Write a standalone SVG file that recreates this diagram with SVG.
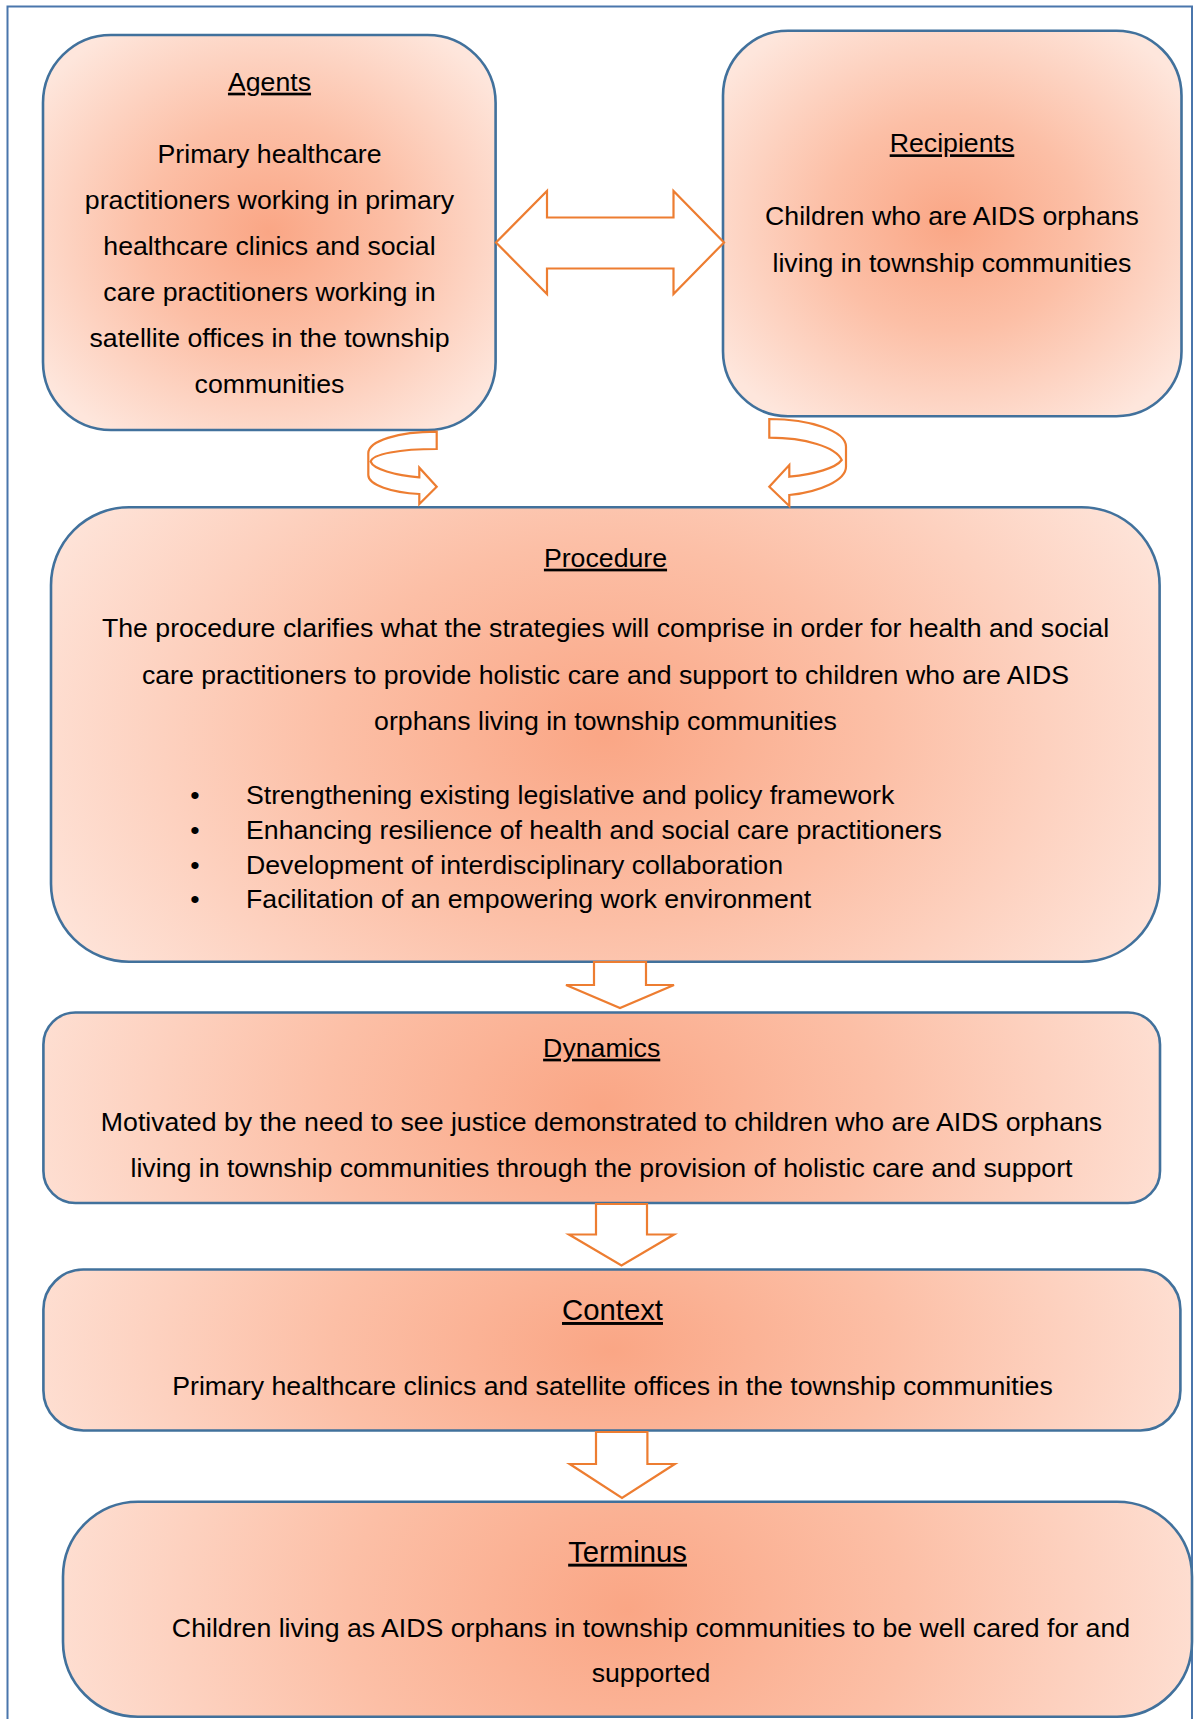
<svg xmlns="http://www.w3.org/2000/svg" width="1194" height="1719" viewBox="0 0 1194 1719">
<style>
.box{stroke:#41719C;stroke-width:2.6}
.arr{fill:#FFFFFF;stroke:#ED7D31;stroke-width:2.2;stroke-linejoin:miter}
text{font-family:"Liberation Sans",Arial,sans-serif;font-size:26.7px;fill:#000;text-anchor:middle}
.t{text-decoration:underline}
.big{font-size:29.3px}
.l{text-anchor:start}
</style>
<defs>
<radialGradient id="gBox" cx="0.5" cy="0.5" r="0.62">
<stop offset="0" stop-color="#FAA685"/>
<stop offset="0.45" stop-color="#FCBFA6"/>
<stop offset="1" stop-color="#FEE6DC"/>
</radialGradient>
<radialGradient id="gProc" cx="0.5" cy="0.5" r="0.55" gradientTransform="translate(0.5 0.5) scale(1 1.7) translate(-0.5 -0.5)">
<stop offset="0" stop-color="#FAA685"/>
<stop offset="0.45" stop-color="#FCBFA6"/>
<stop offset="1" stop-color="#FEE3D8"/>
</radialGradient>
<radialGradient id="gWide" cx="0.5" cy="0.5" r="0.55" gradientTransform="translate(0.5 0.5) scale(1 4) translate(-0.5 -0.5)">
<stop offset="0" stop-color="#FAA685"/>
<stop offset="0.45" stop-color="#FCBFA6"/>
<stop offset="1" stop-color="#FEE3D8"/>
</radialGradient>
</defs>
<rect width="1194" height="1719" fill="#FFFFFF"/>
<rect id="frame" x="7.5" y="6.5" width="1184.5" height="1740" fill="none" stroke="#4A76AC" stroke-width="2"/>

<g id="agents">
<rect class="box" x="43" y="35" width="452.6" height="395" rx="68" fill="url(#gBox)"/>
<text class="t" x="269.5" y="90.7">Agents</text>
<text x="269.5" y="162.7">Primary healthcare</text>
<text x="269.5" y="208.8">practitioners working in primary</text>
<text x="269.5" y="254.9">healthcare clinics and social</text>
<text x="269.5" y="301">care practitioners working in</text>
<text x="269.5" y="347.1">satellite offices in the township</text>
<text x="269.5" y="393.2">communities</text>
</g>

<g id="recipients">
<rect class="box" x="723" y="30.7" width="458.5" height="385.5" rx="65" fill="url(#gBox)"/>
<text class="t" x="952" y="152.3">Recipients</text>
<text x="952" y="225">Children who are AIDS orphans</text>
<text x="952" y="271.5">living in township communities</text>
</g>

<g id="procedure">
<rect class="box" x="51" y="507.3" width="1108.6" height="454.4" rx="78" fill="url(#gProc)"/>
<text class="t" x="605.5" y="566.7">Procedure</text>
<text x="605.5" y="637.3">The procedure clarifies what the strategies will comprise in order for health and social</text>
<text x="605.5" y="683.5">care practitioners to provide holistic care and support to children who are AIDS</text>
<text x="605.5" y="729.7">orphans living in township communities</text>
<text x="195" y="804">•</text>
<text class="l" x="246" y="804">Strengthening existing legislative and policy framework</text>
<text x="195" y="838.8">•</text>
<text class="l" x="246" y="838.8">Enhancing resilience of health and social care practitioners</text>
<text x="195" y="873.5">•</text>
<text class="l" x="246" y="873.5">Development of interdisciplinary collaboration</text>
<text x="195" y="908.3">•</text>
<text class="l" x="246" y="908.3">Facilitation of an empowering work environment</text>
</g>

<g id="dynamics">
<rect class="box" x="43.4" y="1012.5" width="1116.6" height="190.5" rx="32" fill="url(#gWide)"/>
<text class="t" x="601.7" y="1056.7">Dynamics</text>
<text x="601.5" y="1130.7">Motivated by the need to see justice demonstrated to children who are AIDS orphans</text>
<text x="601.5" y="1176.7">living in township communities through the provision of holistic care and support</text>
</g>

<g id="context">
<rect class="box" x="43.4" y="1269.5" width="1137" height="161" rx="40" fill="url(#gWide)"/>
<text class="t big" x="612.5" y="1320">Context</text>
<text x="612.5" y="1395">Primary healthcare clinics and satellite offices in the township communities</text>
</g>

<g id="terminus">
<rect class="box" x="63" y="1501.7" width="1129" height="215" rx="75" fill="url(#gWide)"/>
<text class="t big" x="627.6" y="1561.7">Terminus</text>
<text x="651" y="1636.5">Children living as AIDS orphans in township communities to be well cared for and</text>
<text x="651" y="1681.5">supported</text>
</g>

<g id="connectors">
<path class="arr" d="M496,242.5 L547,191 L547,217.5 L673.5,217.5 L673.5,191 L724,242.5 L673.5,294 L673.5,268.5 L547,268.5 L547,294 Z"/>
<path class="arr" d="M436.7,431.7 C398,431.7 368.3,441 368.3,453.3 L368.3,475 C368.3,485 392,492.5 419.3,494 L419.3,504 L436.7,486.7 L419.3,467.7 L419.3,477.3 C395,475.5 373,469 370.7,461.7 C372,454 400,449 436.7,449 Z"/>
<path class="arr" d="M769.3,419 C810,419 846,431 846,446.7 L846,466.7 C846,480 820,492 789.3,495 L789.3,506 L769.3,486.7 L789.3,465 L789.3,476.7 C815,474 836,468 841.7,460 C836,447 805,437.7 769.3,437.7 Z"/>
<path class="arr" d="M594,962 L646,962 L646,985 L674,985 L620,1008 L566,985 L594,985 Z"/>
<path class="arr" d="M596,1204 L647,1204 L647,1234.5 L674,1234.5 L621.5,1265.5 L569,1234.5 L596,1234.5 Z"/>
<path class="arr" d="M596,1432 L647.4,1432 L647.4,1464 L674.8,1464 L622,1498 L569.7,1464 L596,1464 Z"/>
</g>
</svg>
